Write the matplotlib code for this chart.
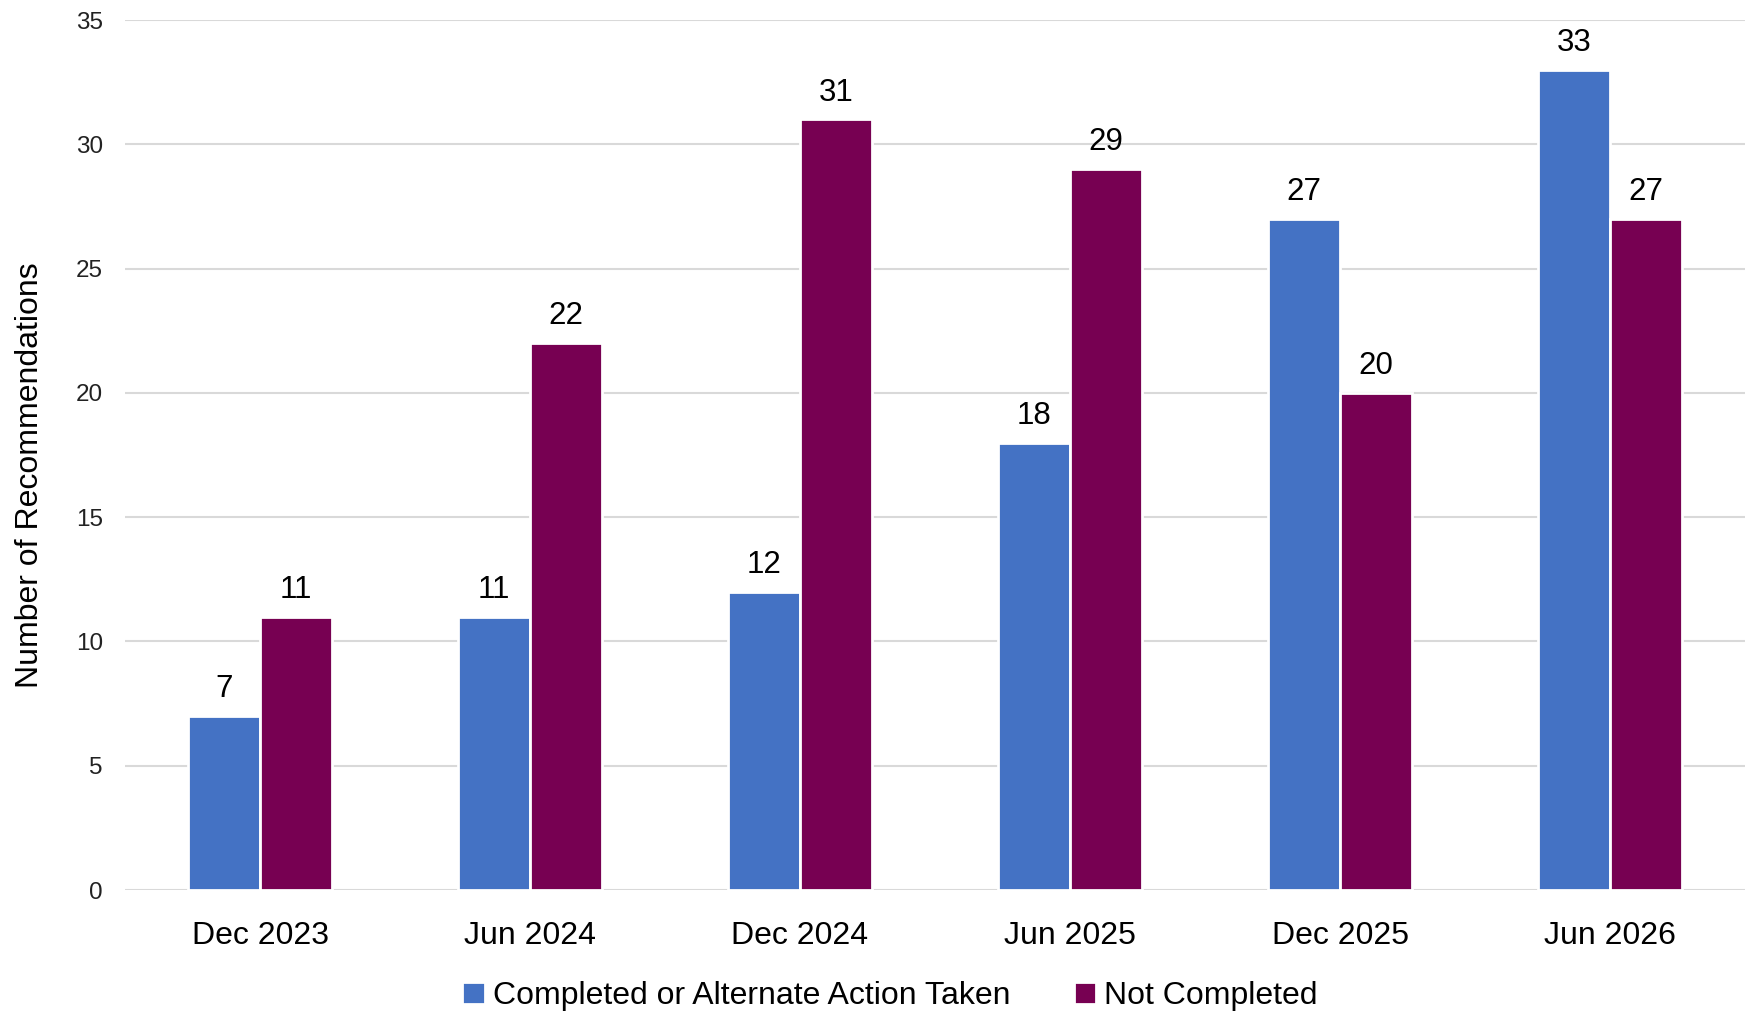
import matplotlib
matplotlib.use("Agg")
import matplotlib.pyplot as plt
import numpy as np

categories = ["Dec 2023", "Jun 2024", "Dec 2024", "Jun 2025", "Dec 2025", "Jun 2026"]
completed = [7, 11, 12, 18, 27, 33]
not_completed = [11, 22, 31, 29, 20, 27]
series_names = ["Completed or Alternate Action Taken", "Not Completed"]
y_ticks = [0, 5, 10, 15, 20, 25, 30, 35]

plt.rcParams['font.family'] = ['Liberation Sans', 'DejaVu Sans']

W, H = 1750, 1013
fig = plt.figure(figsize=(W / 100, H / 100), dpi=100)
ax = fig.add_axes([125 / W, 1 - 890 / H, 1620 / W, 870 / H])

x = np.arange(len(categories))
bw = 0.268
off = 0.134
blue = "#4472C4"
purple = "#770052"

b1 = ax.bar(x - off, completed, bw, color=blue, edgecolor="white", linewidth=2.0,
            label=series_names[0], zorder=3)
b2 = ax.bar(x + off, not_completed, bw, color=purple, edgecolor="white", linewidth=2.0,
            label=series_names[1], zorder=3)

for bars, vals in ((b1, completed), (b2, not_completed)):
    for r, v in zip(bars, vals):
        ax.annotate(str(v), (r.get_x() + r.get_width() / 2, v),
                    xytext=(0, 13.5), textcoords="offset points",
                    ha="center", va="baseline", fontsize=22.5, color="black")

ax.set_xlim(-0.5, len(categories) - 0.5)
ax.set_ylim(0, 35)
ax.set_yticks(y_ticks)
ax.set_xticks(x)
ax.set_xticklabels(categories)
ax.tick_params(axis="x", length=0, pad=22, labelsize=23, colors="black")
ax.tick_params(axis="y", length=0, pad=16, labelsize=17.5, colors="#222222")
ax.yaxis.grid(True, color="#d9d9d9", linewidth=1.5, zorder=0)
ax.set_axisbelow(True)
for s in ax.spines.values():
    s.set_visible(False)

ax.set_ylabel("Number of Recommendations", fontsize=23, color="black")
ax.yaxis.set_label_coords((45 - 125) / 1620, (890 - 475) / 870)

fig.legend(handles=[b1, b2], labels=series_names, loc="center",
           bbox_to_anchor=(890 / W, 17 / H), ncol=2, frameon=False,
           fontsize=23, handlelength=0.7, handleheight=0.7,
           handletextpad=0.25, columnspacing=2.0, borderaxespad=0, borderpad=0)

fig.savefig("out.png", dpi=100, facecolor="white")
